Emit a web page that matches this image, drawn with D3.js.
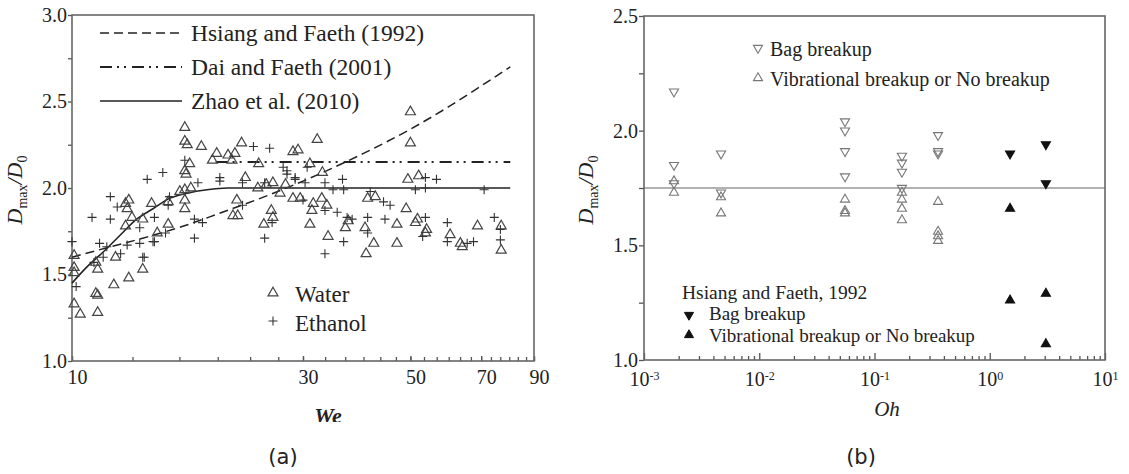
<!DOCTYPE html>
<html lang="en">
<head>
  <meta charset="UTF-8">
  <title>Dmax/D0 against We and Oh</title>
  <style>
    body { margin: 0; background: #fff; }
    svg { display: block; }
    svg text { font-family: "Liberation Serif", "Times New Roman", Times, serif !important; fill: #222; }
    svg text.caption { font-family: "DejaVu Sans", Verdana, sans-serif !important; }
    .frame { fill: none; stroke: #666; stroke-width: 1.6; }
    .tick line { stroke: #555; stroke-width: 1.3; }
  </style>
</head>
<body>
  <svg id="chart" width="1129" height="474"></svg>

  <script src="https://cdn.jsdelivr.net/npm/d3@7"></script>
  <script>
    // ---- panel (a) data: [We, Dmax/D0]
    const water = [
      [10.1,1.61],[10.1,1.54],[10.1,1.51],[10.1,1.33],[10.4,1.27],[11.2,1.57],[11.3,1.53],[11.2,1.39],
      [11.3,1.38],[11.3,1.28],[12.3,1.60],[12.2,1.44],[12.9,1.91],[13.1,1.93],[13.0,1.88],[12.9,1.78],
      [13.3,1.83],[13.1,1.48],[14.0,1.82],[14.0,1.53],[14.6,1.91],[15.0,1.74],[15.8,1.92],[15.8,1.79],
      [16.7,1.98],[17.1,1.99],[17.1,1.93],[17.1,1.88],[17.1,2.35],[17.1,2.27],[17.3,2.25],[17.1,2.10],
      [17.2,2.08],[17.5,2.14],[17.6,2.00],[18.5,2.24],[19.5,2.16],[19.9,2.20],[21.0,2.19],[21.4,2.16],
      [21.7,2.20],[22.4,2.26],[22.8,2.06],[21.9,1.93],[21.5,1.84],[22.0,1.84],[24.3,2.14],[24.2,2.00],
      [25.2,2.02],[26.0,2.03],[26.9,1.97],[27.6,2.02],[25.8,1.87],[26.0,1.83],[24.9,1.79],[28.6,2.21],
      [29.3,2.22],[29.6,1.94],[28.6,1.94],[31.0,2.14],[32.1,2.28],[32.9,2.09],[32.8,1.94],[31.5,1.91],
      [31.3,1.87],[33.6,1.90],[31.0,1.79],[33.8,1.72],[37.2,1.81],[36.7,1.77],[40.8,1.94],[42.3,1.95],
      [40.3,1.77],[42.0,1.68],[40.5,1.62],[46.9,1.79],[46.9,1.68],[49.0,1.88],[50.0,2.44],[50.0,2.26],
      [49.4,2.05],[52.0,2.07],[51.2,1.80],[54.0,1.76],[53.7,1.74],[60.4,1.73],[63.4,1.68],[64.0,1.66],
      [68.8,1.78],[77.0,1.78],[77.0,1.64],[51.7,1.82]
    ];
    const ethanol = [
      [10.0,1.69],[10.2,1.43],[11.0,1.83],[11.1,1.57],[11.4,1.68],[11.8,1.66],[11.6,1.60],[12.0,1.95],
      [12.4,1.89],[12.0,1.82],[13.0,1.67],[13.8,1.77],[13.8,1.68],[14.0,1.60],[14.3,2.05],[14.8,1.83],
      [14.8,1.69],[15.4,2.09],[15.6,1.74],[15.8,1.90],[15.9,1.95],[17.1,2.16],[17.9,1.71],[17.9,1.82],
      [18.2,2.03],[18.6,1.80],[20.2,2.06],[20.2,2.04],[22.5,2.03],[22.5,1.90],[23.7,2.24],[25.6,2.23],
      [25.0,2.03],[25.9,1.80],[25.0,1.71],[27.8,2.10],[27.8,2.08],[28.9,2.06],[28.9,2.05],[30.6,2.12],
      [30.3,2.03],[30.0,1.93],[33.3,2.03],[36.2,2.05],[36.4,1.99],[34.6,1.99],[33.3,1.87],[35.3,1.86],
      [37.0,1.83],[37.9,1.82],[41.3,1.98],[44.0,1.92],[45.4,1.90],[40.8,1.83],[44.3,1.82],[40.8,1.74],
      [36.4,1.69],[33.3,1.62],[51.2,1.99],[53.7,2.06],[56.6,2.05],[53.7,2.00],[53.7,1.83],[53.0,1.72],
      [59.6,1.80],[59.6,1.69],[65.5,1.68],[67.5,1.69],[71.0,1.99],[74.5,1.83],[76.7,1.76],[76.7,1.70],
      [27.3,2.12],[14.1,1.60],[14.7,1.69],[12.6,1.62]
    ];
    const hsiangCurve = [[10,1.60],[12,1.66],[14,1.71],[17,1.78],[20,1.85],[25,1.95],[30,2.04],
      [40,2.20],[50,2.34],[60,2.47],[70,2.59],[80.4,2.70]];
    const daiCurve = [[19.8,2.15],[80.4,2.15]];
    const zhaoCurve = [[10,1.45],[10.7,1.54],[11.6,1.63],[12.6,1.73],[13.6,1.82],[14.7,1.88],
      [15.9,1.94],[17.3,1.97],[19,1.99],[21,2.0],[30,2.0],[80.4,2.0]];
    const weTicks = [10, 30, 50, 70, 90];
    const dTicksA = [1.0, 1.5, 2.0, 2.5, 3.0];
    const curveNames = ["Hsiang and Faeth (1992)", "Dai and Faeth (2001)", "Zhao et al. (2010)"];

    // ---- panel (b) data: [Oh, Dmax/D0]
    const bagOpen = [[1.82e-3,2.17],[1.82e-3,1.85],[1.82e-3,1.77],[4.66e-3,1.90],[4.66e-3,1.73],
      [0.0555,2.04],[0.0555,2.00],[0.0555,1.91],[0.0555,1.80],[0.173,1.89],[0.173,1.86],[0.173,1.82],
      [0.173,1.75],[0.356,1.98],[0.356,1.91],[0.356,1.90]];
    const vibOpen = [[1.82e-3,1.78],[1.82e-3,1.73],[4.66e-3,1.71],[4.66e-3,1.64],[0.0555,1.70],
      [0.0555,1.65],[0.0555,1.64],[0.173,1.73],[0.173,1.70],[0.173,1.66],[0.173,1.61],[0.356,1.69],
      [0.356,1.56],[0.356,1.54],[0.356,1.52]];
    const bagHF = [[1.5,1.90],[3.07,1.94],[3.07,1.77]];
    const vibHF = [[1.5,1.66],[1.5,1.26],[3.07,1.29],[3.07,1.07]];
    const ohTicks = [1e-3, 1e-2, 1e-1, 1e0, 1e1];
    const dTicksB = [1.0, 1.5, 2.0, 2.5];
    const refLevel = 1.75;

    const svg = d3.select("#chart");
    const tri = d3.symbol(d3.symbolTriangle, 43)();
    const triB = d3.symbol(d3.symbolTriangle, 36)();
    const plus = "M-4.5,0H4.5M0,-4.5V4.5";

    // y label D_max/D_0, rotated
    function dLabel(g, x, y) {
      const t = g.append("text")
        .attr("transform", `translate(${x},${y}) rotate(-90)`)
        .attr("text-anchor", "middle")
        .style("font-size", "22px").style("font-style", "italic");
      t.append("tspan").text("D");
      t.append("tspan").attr("dy", 5).style("font-size", "14px").style("font-style", "normal").text("max");
      t.append("tspan").attr("dy", -5).text("/D");
      t.append("tspan").attr("dy", 5).style("font-size", "14px").style("font-style", "normal").text("0");
    }

    // ================= panel (a)
    const a = svg.append("g");
    const xA = d3.scaleLog().domain([10, 90]).range([72, 534]);
    const yA = d3.scaleLinear().domain([1, 3]).range([361, 15]);

    a.append("g").attr("transform", "translate(0,361)")
      .call(d3.axisBottom(xA).tickValues(d3.range(10, 90.1, 10 / 3)).tickSize(-4).tickFormat(""))
      .call(g => g.select(".domain").remove());
    a.append("g").attr("transform", "translate(0,361)")
      .call(d3.axisBottom(xA).tickValues(weTicks).tickSize(-5).tickPadding(9).tickFormat(d3.format("d")))
      .call(g => g.select(".domain").remove())
      .call(g => g.selectAll("text").attr("dx", 5).style("font-size", "20px"));
    a.append("g").attr("transform", "translate(72,0)")
      .call(d3.axisLeft(yA).tickValues([1.25, 1.75, 2.25, 2.75]).tickSize(4).tickFormat(""))
      .call(g => g.select(".domain").remove());
    a.append("g").attr("transform", "translate(72,0)")
      .call(d3.axisLeft(yA).tickValues(dTicksA).tickSize(4).tickPadding(1).tickFormat(d3.format(".1f")))
      .call(g => g.select(".domain").remove())
      .call(g => g.selectAll("text").style("font-size", "20px"));
    a.append("rect").attr("class", "frame")
      .attr("x", 72).attr("y", 15).attr("width", 462).attr("height", 346);

    const lineA = d3.line().x(d => xA(d[0])).y(d => yA(d[1])).curve(d3.curveMonotoneX);
    const styles = [
      { dash: "9,5", w: 1.5 },
      { dash: "12,5,2,5,2,6", w: 2 },
      { dash: null, w: 1.6 }
    ];
    [hsiangCurve, daiCurve, zhaoCurve].forEach((c, i) => {
      a.append("path").datum(c).attr("d", lineA)
        .attr("fill", "none").attr("stroke", "#222")
        .attr("stroke-width", styles[i].w).attr("stroke-dasharray", styles[i].dash);
    });

    a.append("g").selectAll("path").data(water).join("path")
      .attr("d", tri).attr("transform", d => `translate(${xA(d[0])},${yA(d[1])})`)
      .attr("fill", "none").attr("stroke", "#444").attr("stroke-width", 1.2);
    a.append("g").selectAll("path").data(ethanol).join("path")
      .attr("d", plus).attr("transform", d => `translate(${xA(d[0])},${yA(d[1])})`)
      .attr("stroke", "#333").attr("stroke-width", 1.1);

    // curve legend
    curveNames.forEach((name, i) => {
      const y = 33 + i * 34;
      a.append("line").attr("x1", 100).attr("x2", 182).attr("y1", y).attr("y2", y)
        .attr("stroke", "#222").attr("stroke-width", styles[i].w).attr("stroke-dasharray", styles[i].dash);
      a.append("text").attr("x", 191).attr("y", y + 8).style("font-size", "23.5px").text(name);
    });
    // marker legend
    a.append("path").attr("d", tri).attr("transform", "translate(273,293)")
      .attr("fill", "none").attr("stroke", "#444").attr("stroke-width", 1.2);
    a.append("path").attr("d", plus).attr("transform", "translate(273,321)")
      .attr("stroke", "#333").attr("stroke-width", 1.1);
    a.append("text").attr("x", 295).attr("y", 302).style("font-size", "23px").text("Water");
    a.append("text").attr("x", 295).attr("y", 331).style("font-size", "23px").text("Ethanol");

    dLabel(a, 22, 190);
    a.append("clipPath").attr("id", "weclip").append("rect")
      .attr("x", 280).attr("y", 395).attr("width", 100).attr("height", 27);
    a.append("text").attr("clip-path", "url(#weclip)")
      .attr("x", 328).attr("y", 423).attr("text-anchor", "middle")
      .style("font-size", "22px").style("font-style", "italic").style("font-weight", "bold").text("We");
    a.append("text").attr("class", "caption").attr("x", 283).attr("y", 464)
      .attr("text-anchor", "middle").style("font-size", "21px").text("(a)");

    // ================= panel (b)
    const b = svg.append("g");
    const xB = d3.scaleLog().domain([1e-3, 10]).range([644, 1105]);
    const yB = d3.scaleLinear().domain([1, 2.5]).range([360, 16]);

    const ohMinor = [];
    [1e-3, 1e-2, 1e-1, 1].forEach(dec => d3.range(2, 10).forEach(k => ohMinor.push(dec * k)));
    b.append("g").attr("transform", "translate(0,360)")
      .call(d3.axisBottom(xB).tickValues(ohMinor).tickSize(-4).tickFormat(""))
      .call(g => g.select(".domain").remove());
    b.append("g").attr("transform", "translate(0,360)")
      .call(d3.axisBottom(xB).tickValues(ohTicks).tickSize(-7).tickPadding(12).tickFormat(""))
      .call(g => g.select(".domain").remove())
      .call(g => {
        const t = g.selectAll("text").style("font-size", "20px");
        t.append("tspan").text("10");
        t.append("tspan").attr("dy", "-0.55em").style("font-size", "12px")
          .text(d => Math.round(Math.log10(d)));
      });
    b.append("g").attr("transform", "translate(644,0)")
      .call(d3.axisLeft(yB).tickValues([1.25, 1.75, 2.25]).tickSize(5).tickFormat(""))
      .call(g => g.select(".domain").remove());
    b.append("g").attr("transform", "translate(644,0)")
      .call(d3.axisLeft(yB).tickValues(dTicksB).tickSize(5).tickPadding(1).tickFormat(d3.format(".1f")))
      .call(g => g.select(".domain").remove())
      .call(g => g.selectAll("text").style("font-size", "20px"));

    b.append("line").attr("x1", 644).attr("x2", 1105)
      .attr("y1", yB(refLevel)).attr("y2", yB(refLevel))
      .attr("stroke", "#999").attr("stroke-width", 1.3);
    b.append("rect").attr("class", "frame")
      .attr("x", 644).attr("y", 16).attr("width", 461).attr("height", 344);

    function marks(data, down, filled) {
      b.append("g").selectAll("path").data(data).join("path")
        .attr("d", triB)
        .attr("transform", d => `translate(${xB(d[0])},${yB(d[1])})` + (down ? " rotate(180)" : ""))
        .attr("fill", filled ? "#111" : "none")
        .attr("stroke", filled ? "#111" : "#777").attr("stroke-width", 1.1);
    }
    marks(bagOpen, true, false);
    marks(vibOpen, false, false);
    marks(bagHF, true, true);
    marks(vibHF, false, true);

    // legends
    const legTop = [["Bag breakup", true, 48, 56], ["Vibrational breakup or No breakup", false, 78, 86]];
    legTop.forEach(([name, down, my, ty]) => {
      b.append("path").attr("d", triB)
        .attr("transform", `translate(758,${my})` + (down ? " rotate(180)" : ""))
        .attr("fill", "none").attr("stroke", "#777").attr("stroke-width", 1.1);
      b.append("text").attr("x", 770).attr("y", ty).style("font-size", "20px").text(name);
    });
    b.append("text").attr("x", 682).attr("y", 299).style("font-size", "19.5px").text("Hsiang and Faeth, 1992");
    const legBot = [["Bag breakup", true, 315, 320], ["Vibrational breakup or No breakup", false, 335, 342]];
    legBot.forEach(([name, down, my, ty]) => {
      b.append("path").attr("d", triB)
        .attr("transform", `translate(689,${my})` + (down ? " rotate(180)" : ""))
        .attr("fill", "#111").attr("stroke", "#111");
      b.append("text").attr("x", 709).attr("y", ty).style("font-size", "19px").text(name);
    });

    dLabel(b, 593, 190);
    b.append("text").attr("x", 887).attr("y", 416).attr("text-anchor", "middle")
      .style("font-size", "21px").style("font-style", "italic").text("Oh");
    b.append("text").attr("class", "caption").attr("x", 861).attr("y", 464)
      .attr("text-anchor", "middle").style("font-size", "21px").text("(b)");
  </script>
</body>
</html>
